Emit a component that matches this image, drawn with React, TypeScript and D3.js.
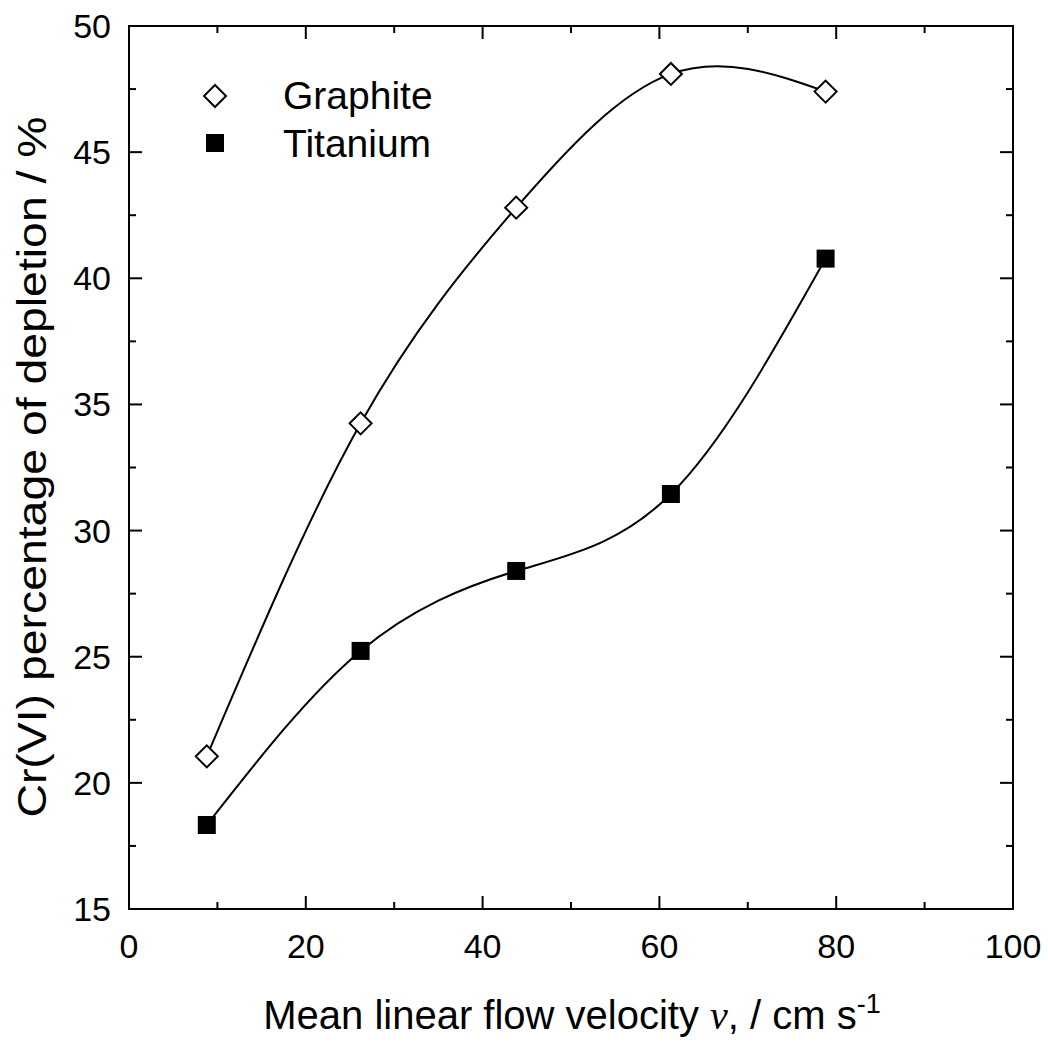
import React from "react";
import * as d3 from "d3";

const velocity = [8.8, 26.2, 43.8, 61.3, 78.8];
const graphite = [21.05, 34.25, 42.8, 48.1, 47.4];
const titanium = [18.33, 25.23, 28.4, 31.45, 40.78];
const xTicks = [0, 20, 40, 60, 80, 100];
const xMinor = [10, 30, 50, 70, 90];
const yTicks = [15, 20, 25, 30, 35, 40, 45, 50];
const yMinor = [17.5, 22.5, 27.5, 32.5, 37.5, 42.5, 47.5];

const W = 1048;
const H = 1043;
const M = { left: 129, top: 26, right: 1013, bottom: 909 };

export default function App() {
  const x = d3.scaleLinear().domain([0, 100]).range([M.left, M.right]);
  const y = d3.scaleLinear().domain([15, 50]).range([M.bottom, M.top]);
  const line = d3
    .line<number>()
    .x((_, i) => x(velocity[i]))
    .y((d) => y(d))
    .curve(d3.curveNatural);
  const font = "'Liberation Sans', Arial, sans-serif";
  const majorLen = 13;
  const minorLen = 7;
  return (
    <svg
      width={W}
      height={H}
      style={{ position: "absolute", left: 0, top: 0, background: "#fff" }}
    >
      <rect x={0} y={0} width={W} height={H} fill="#fff" />
      {/* frame */}
      <rect
        x={M.left}
        y={M.top}
        width={M.right - M.left}
        height={M.bottom - M.top}
        fill="none"
        stroke="#000"
        strokeWidth={2}
      />
      {/* x ticks */}
      {xTicks.map((t) => (
        <g key={"xt" + t}>
          <line x1={x(t)} x2={x(t)} y1={M.bottom} y2={M.bottom - majorLen} stroke="#000" strokeWidth={2} />
          <line x1={x(t)} x2={x(t)} y1={M.top} y2={M.top + majorLen} stroke="#000" strokeWidth={2} />
          <text x={x(t)} y={958} fontSize={34} fontFamily={font} textAnchor="middle">
            {t}
          </text>
        </g>
      ))}
      {xMinor.map((t) => (
        <g key={"xm" + t}>
          <line x1={x(t)} x2={x(t)} y1={M.bottom} y2={M.bottom - minorLen} stroke="#000" strokeWidth={2} />
          <line x1={x(t)} x2={x(t)} y1={M.top} y2={M.top + minorLen} stroke="#000" strokeWidth={2} />
        </g>
      ))}
      {/* y ticks */}
      {yTicks.map((t) => (
        <g key={"yt" + t}>
          <line x1={M.left} x2={M.left + majorLen} y1={y(t)} y2={y(t)} stroke="#000" strokeWidth={2} />
          <line x1={M.right} x2={M.right - majorLen} y1={y(t)} y2={y(t)} stroke="#000" strokeWidth={2} />
          <text x={111} y={y(t) + 12} fontSize={34} fontFamily={font} textAnchor="end">
            {t}
          </text>
        </g>
      ))}
      {yMinor.map((t) => (
        <g key={"ym" + t}>
          <line x1={M.left} x2={M.left + minorLen} y1={y(t)} y2={y(t)} stroke="#000" strokeWidth={2} />
          <line x1={M.right} x2={M.right - minorLen} y1={y(t)} y2={y(t)} stroke="#000" strokeWidth={2} />
        </g>
      ))}
      {/* lines */}
      <path d={line(graphite) || ""} fill="none" stroke="#000" strokeWidth={2} />
      <path d={line(titanium) || ""} fill="none" stroke="#000" strokeWidth={2} />
      {/* markers */}
      {graphite.map((v, i) => (
        <path
          key={"g" + i}
          d={`M${x(velocity[i])},${y(v) - 11} l11,11 l-11,11 l-11,-11 Z`}
          fill="#fff"
          stroke="#000"
          strokeWidth={2}
        />
      ))}
      {titanium.map((v, i) => (
        <rect key={"t" + i} x={x(velocity[i]) - 9} y={y(v) - 9} width={18} height={18} fill="#000" />
      ))}
      {/* legend */}
      <path d={`M215,85 l11,11 l-11,11 l-11,-11 Z`} fill="#fff" stroke="#000" strokeWidth={2} />
      <rect x={206} y={134} width={18} height={18} fill="#000" />
      <text x={283} y={109} fontSize={39} fontFamily={font}>
        Graphite
      </text>
      <text x={283} y={157} fontSize={39} fontFamily={font}>
        Titanium
      </text>
      {/* axis titles */}
      <text x={572} y={1029} fontSize={40} fontFamily={font} textAnchor="middle">
        Mean linear flow velocity{" "}
        <tspan fontFamily="'Liberation Serif', 'Times New Roman', serif" fontStyle="italic">
          v
        </tspan>
        , / cm s
        <tspan dy={-16} fontSize={27}>
          -1
        </tspan>
      </text>
      <text
        transform={`translate(46, 467) rotate(-90) scale(1.16, 1)`}
        fontSize={40}
        fontFamily={font}
        textAnchor="middle"
      >
        Cr(VI) percentage of depletion / %
      </text>
    </svg>
  );
}
